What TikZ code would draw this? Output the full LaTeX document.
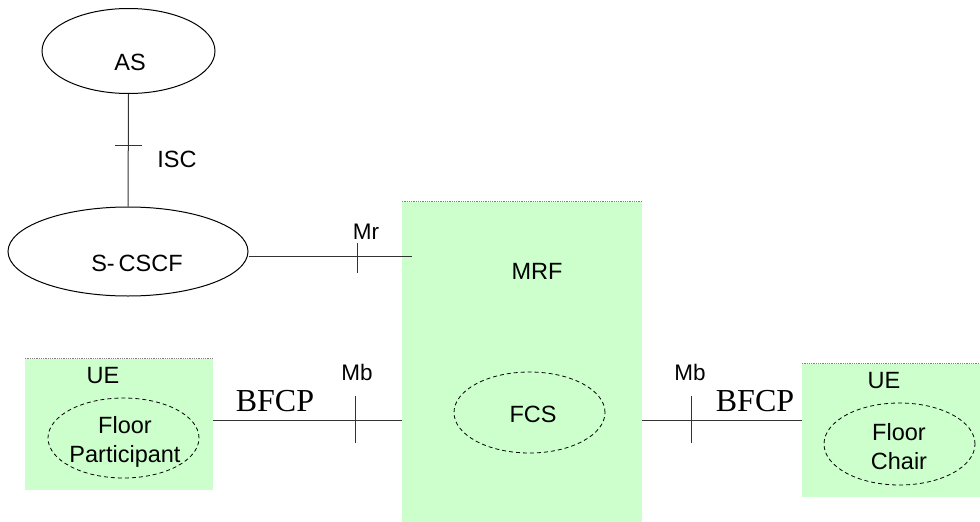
\documentclass[tikz,border=0pt]{standalone}
\usepackage{fontspec}
\setmainfont{Liberation Sans}
\newfontfamily\timesf{Liberation Serif}
\usetikzlibrary{shapes.geometric}
\definecolor{boxgreen}{HTML}{CCFFCC}
\definecolor{linegray}{HTML}{333333}
\tikzset{
  solidell/.style={ellipse, draw=black, line width=1pt, inner sep=0pt},
  dashell/.style={ellipse, draw=black, line width=0.8pt, dash pattern=on 4pt off 3pt, inner sep=0pt},
  greenbox/.style={rectangle, fill=boxgreen, draw=none, inner sep=0pt},
  lbl/.style={font=\fontsize{23.5}{29}\selectfont, inner sep=0pt, align=center},
  smlbl/.style={font=\fontsize{22.5}{26}\selectfont, inner sep=0pt},
  bfcplbl/.style={font=\timesf\fontsize{32}{34}\selectfont, inner sep=0pt},
  conn/.style={draw=linegray, line width=1pt},
  topedge/.style={draw=gray, line width=0.8pt, densely dotted}
}
\begin{document}
\begin{tikzpicture}[x=1pt,y=-1pt]
\useasboundingbox (0,0) rectangle (980,522);
% boxes
\node[greenbox, minimum width=240pt, minimum height=320pt] (MRF) at (522,362) {};
\node[greenbox, minimum width=188pt, minimum height=131pt] (UEL) at (119,424.5) {};
\node[greenbox, minimum width=178pt, minimum height=133pt] (UER) at (891,430.5) {};
\draw[topedge] (MRF.north west) -- (MRF.north east);
\draw[topedge] (UEL.north west) -- (UEL.north east);
\draw[topedge] (UER.north west) -- (UER.north east);
% ellipses
\node[solidell, minimum width=173pt, minimum height=85pt] (AS) at (128.5,51) {};
\node[solidell, minimum width=240pt, minimum height=89pt] (SCSCF) at (128,251.5) {};
\node[dashell, minimum width=151pt, minimum height=81pt] (FCS) at (529.5,412.5) {};
\node[dashell, minimum width=151pt, minimum height=80pt] (FP) at (123.5,438) {};
\node[dashell, minimum width=151pt, minimum height=82pt] (FC) at (899.5,444) {};
% texts
\node[lbl] (tAS) at (130,62) {AS};
\node[lbl] (tSCSCF) at (137,263) {S-\,CSCF};
\node[lbl] (tMRF) at (537,271) {MRF};
\node[lbl] (tFCS) at (533,414) {FCS};
\node[lbl] (tUEL) at (103,376) {UE};
\node[lbl] (tUER) at (884,381) {UE};
\node[lbl] (tFP) at (125,442) {Floor\\Participant};
\node[lbl] (tFC) at (899,447) {Floor\\Chair};
\node[lbl] (tISC) at (177,159) {ISC};
\node[smlbl] (tMr) at (366,232) {Mr};
\node[smlbl] (tMbL) at (357,372) {Mb};
\node[smlbl] (tMbR) at (690,372) {Mb};
\node[bfcplbl] (tBL) at (275,401) {BFCP};
\node[bfcplbl] (tBR) at (755,401) {BFCP};
% connectors
\draw[conn] (AS.south) -- (SCSCF.north);
\draw[conn] ([yshift=-5pt]SCSCF.east) -- ([yshift=-5pt,xshift=10pt]SCSCF.east -| MRF.west);
\draw[conn] (UEL.east |- FP.center) ++(0,-18) coordinate (bl) -- (bl -| MRF.west);
\draw[conn] (MRF.east |- bl) coordinate (br) -- (br -| UER.west);
% ticks
\draw[conn] (115,145) -- (142,145);
\draw[conn] (357,243) -- (357,273);
\draw[conn] (355,396) -- (355,443);
\draw[conn] (691,396) -- (691,443);
\end{tikzpicture}
\end{document}
